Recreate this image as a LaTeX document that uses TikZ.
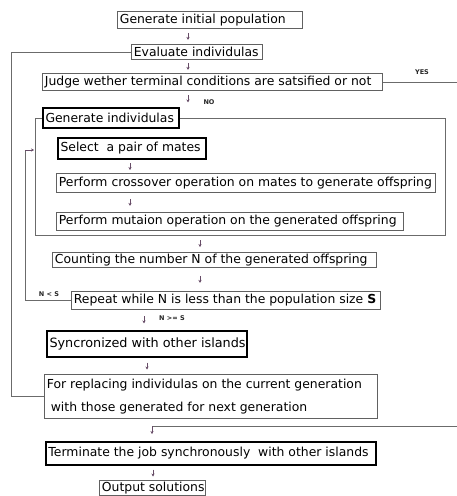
\documentclass[tikz,border=0pt]{standalone}
\usepackage{fontspec}
\setmainfont{DejaVu Sans}
\usetikzlibrary{arrows.meta,calc}
\tikzset{
  x=1pt, y=-1pt,
  box/.style={draw=black!62, line width=0.8pt, inner xsep=2.5pt, inner ysep=0pt,
    anchor=north west, font=\fontsize{12.4}{14}\selectfont},
  heavy/.style={draw=black, line width=2pt},
  link/.style={draw=black!58, line width=0.8pt},
  arr/.style={draw=violet!30!black!70, line width=0.7pt, -{Stealth[length=3pt,width=3.2pt]}},
  lab/.style={font=\fontsize{6.5}{7}\selectfont\bfseries, inner sep=0pt, text=black!85}
}
\newcommand\bx[7][]{%
  \pgfmathsetmacro\bxw{#5-#3-5}%
  \pgfmathsetmacro\bxh{#6-#4}%
  \node[box,#1,minimum height=\bxh pt] (#2) at (#3,#4) {\makebox[\bxw pt][l]{#7}};}
\newcommand\sarr[3]{%
  \coordinate (sx) at (#3,0);
  \draw[arr] ($($(#1.south -| sx)!.5!(#2.north -| sx)$)+(0,-3.5)$) -- ($($(#1.south -| sx)!.5!(#2.north -| sx)$)+(0,3.5)$);}
\begin{document}
\begin{tikzpicture}
\useasboundingbox (0,0) rectangle (457,496);
\clip (0,0) rectangle (457,496);
\bx{init}{117}{11}{302}{28}{Generate initial population}
\bx{eval}{131}{44}{262}{59}{Evaluate individulas}
\bx{judge}{42}{73}{382}{90}{Judge wether terminal conditions are satsified or not}
\bx[heavy]{gi}{42}{107}{178}{127}{Generate individulas}
\bx[heavy]{sel}{57}{137}{205}{158}{Select\ \ a pair of mates}
\bx{cross}{56}{173}{435}{192}{Perform crossover operation on mates to generate offspring}
\bx{mut}{56}{212}{403}{230}{Perform mutaion operation on the generated offspring}
\bx{count}{52}{252}{376}{267}{Counting the number N of the generated offspring}
\bx{rep}{71}{291}{380}{309}{Repeat while N is less than the population size \textbf{S}}
\bx[heavy,font=\fontsize{12.8}{14}\selectfont]{sync}{46}{330}{246}{356}{Syncronized with other islands}
\node[box, minimum height=44pt, align=left, font=\fontsize{12.4}{23}\selectfont] (repl) at (44,374)
  {\makebox[328pt][l]{For replacing individulas on the current generation}\\\makebox[328pt][l]{\ with those generated for next generation}};
\bx[heavy]{term}{45}{441}{375}{464}{Terminate the job synchronously\ \ with other islands}
\bx{out}{99}{480}{205}{495}{Output solutions}
% container of the generation step
\coordinate (cbr) at (445,235);
\coordinate (cl) at (35,0);
\draw[link] (gi.east) -| (cbr) -| (gi.west -| cl) -- (gi.west);
% small arrows
\sarr{init}{eval}{188}
\sarr{eval}{judge}{188}
\sarr{judge}{gi}{188}
\sarr{sel}{cross}{130}
\sarr{cross}{mut}{130}
\coordinate (cbot) at (200,235);
\coordinate (sx) at (200,0);
\draw[arr] ($($(cbot)!.5!(count.north -| sx)$)+(0,-3.5)$) -- ($($(cbot)!.5!(count.north -| sx)$)+(0,3.5)$);
\sarr{count}{rep}{200}
\sarr{rep}{sync}{144}
\sarr{sync}{repl}{147}
\sarr{term}{out}{153}
% labels
\node[lab] (no) at (209,102) {NO};
\node[lab] (yes) at (422,72) {YES};
\node[lab] (nls) at (49,294) {N < S};
\node[lab] (nge) at (172,318) {N >= S};
% repeat loop
\coordinate (lx) at (25,0);
\coordinate (lend) at (34,150);
\draw[link] (rep.west) -- (rep.west -| lx) -- (lend -| lx);
\draw[arr] (lend -| lx) -- (lend);
% back to evaluation
\coordinate (ex) at (11,0);
\draw[link] (repl.west) -- (repl.west -| ex) -- (eval.west -| ex) -- (eval.west);
% YES branch
\coordinate (rx) at (470,0);
\coordinate (ret) at (152,426);
\draw[link] (judge.east) -- (judge.east -| rx) |- (ret);
\draw[arr] (ret) -- ($(ret)+(0,8)$);
\end{tikzpicture}
\end{document}
